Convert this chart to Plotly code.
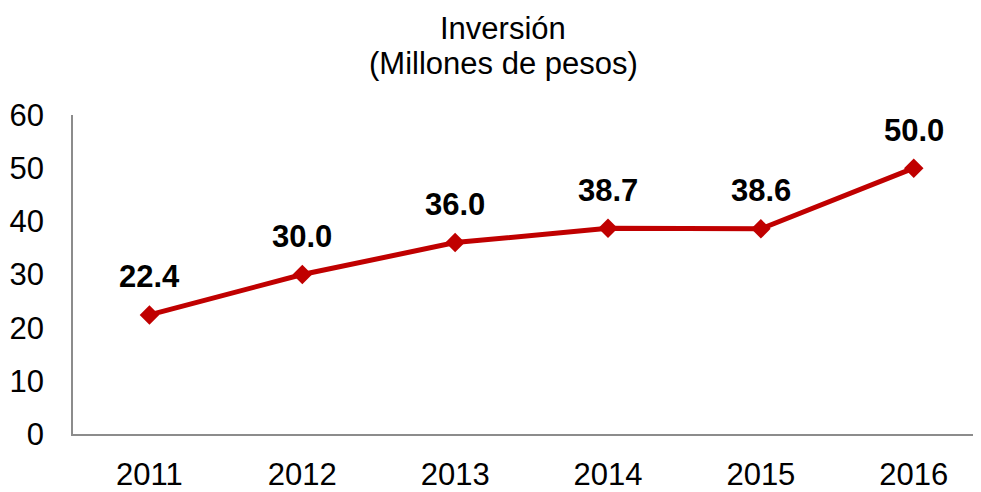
import plotly.graph_objects as go

years = ["2011", "2012", "2013", "2014", "2015", "2016"]
values = [22.4, 30.0, 36.0, 38.7, 38.6, 50.0]
labels = ["22.4", "30.0", "36.0", "38.7", "38.6", "50.0"]
y_ticks = [0, 10, 20, 30, 40, 50, 60]
title_lines = ["Inversión", "(Millones de pesos)"]

color = "#C00000"
font = "Liberation Sans, Arial, sans-serif"
fs = 31

fig = go.Figure()
fig.add_trace(go.Scatter(
    x=years, y=values, mode="lines+markers",
    line=dict(color=color, width=5),
    marker=dict(symbol="diamond", size=15, color=color),
    hoverinfo="skip", showlegend=False,
))

for i, (y, t) in enumerate(zip(values, labels)):
    fig.add_annotation(x=i, y=y, xref="x", yref="y", text="<b>%s</b>" % t,
                       showarrow=False, yshift=38,
                       font=dict(family=font, size=fs, color="black"))

# title as two annotation lines
for line, yp in zip(title_lines, [1.27, 1.162]):
    fig.add_annotation(x=0.474, xref="paper", y=yp, yref="paper",
                       xanchor="center", yanchor="middle", showarrow=False,
                       text=line, font=dict(family=font, size=fs, color="black"))

# page body has an 8px margin: shrink figure and shift margins to compensate
fig.update_layout(
    width=973, height=484,
    margin=dict(l=65, r=0, t=107, b=50),
    paper_bgcolor="white", plot_bgcolor="white",
    font=dict(family=font, size=fs, color="black"),
)
fig.update_xaxes(type="category", range=[-0.5, 5.44], showgrid=False,
                 showline=True, linecolor="#8c8c8c", linewidth=1.5,
                 ticks="", ticklabelstandoff=12, tickfont=dict(size=fs),
                 fixedrange=True)
fig.update_yaxes(range=[0, 60], tickvals=y_ticks, showgrid=False, zeroline=False,
                 showline=True, linecolor="#8c8c8c", linewidth=1.5,
                 ticks="", ticklabelstandoff=21, tickfont=dict(size=fs),
                 fixedrange=True)

fig.write_html("out.html")
